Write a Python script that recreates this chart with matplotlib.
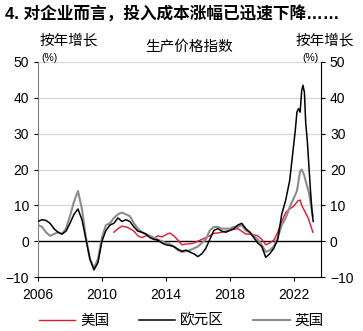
import matplotlib
matplotlib.use("Agg")
import matplotlib.pyplot as plt

plt.rcParams['font.family'] = ['Liberation Sans', 'Noto Sans CJK SC']

# Euro area PPI, % y/y
euro_x = [2006.0, 2006.25, 2006.5, 2006.75, 2007.0, 2007.25, 2007.5, 2007.75,
          2008.0, 2008.25, 2008.5, 2008.75, 2009.0, 2009.25, 2009.5, 2009.75,
          2010.0, 2010.25, 2010.5, 2010.75, 2011.0, 2011.25, 2011.5, 2011.75,
          2012.0, 2012.25, 2012.5, 2012.75, 2013.0, 2013.25, 2013.5, 2013.75,
          2014.0, 2014.25, 2014.5, 2014.75, 2015.0, 2015.25, 2015.5, 2015.75,
          2016.0, 2016.25, 2016.5, 2016.75, 2017.0, 2017.25, 2017.5, 2017.75,
          2018.0, 2018.25, 2018.5, 2018.75, 2019.0, 2019.25, 2019.5, 2019.75,
          2020.0, 2020.25, 2020.5, 2020.75, 2021.0, 2021.25, 2021.5, 2021.75,
          2021.9, 2022.0, 2022.1, 2022.2, 2022.3, 2022.4, 2022.5, 2022.58,
          2022.67, 2022.75, 2022.85, 2022.95, 2023.05, 2023.15, 2023.22]
euro_y = [5.5, 6.0, 5.8, 5.0, 3.5, 2.5, 2.0, 2.8,
          5.0, 7.5, 9.0, 6.0, 0.5, -5.0, -8.0, -6.0,
          0.0, 3.0, 4.5, 5.0, 6.5, 5.5, 6.0, 5.5,
          4.0, 2.8, 2.5, 2.0, 1.0, 0.5, 0.3, -0.5,
          -1.0, -1.2, -1.5, -2.2, -2.8, -2.5, -3.0, -3.5,
          -4.3, -3.5, -2.0, 0.5, 3.0, 3.5, 2.8, 2.5,
          3.0, 3.5, 4.5, 5.0, 3.5, 2.5, 1.0, -0.5,
          -1.5, -4.5, -3.5, -2.0, 0.5, 7.5, 11.5, 17.0,
          23.0, 27.0, 31.0, 36.0, 37.0, 36.0, 42.0, 43.5,
          41.5, 33.0, 28.0, 21.0, 14.0, 8.0, 5.5]

# UK PPI input, % y/y
uk_x = [2006.0, 2006.25, 2006.5, 2006.75, 2007.0, 2007.25, 2007.5, 2007.75,
        2008.0, 2008.25, 2008.5, 2008.75, 2009.0, 2009.25, 2009.5, 2009.75,
        2010.0, 2010.25, 2010.5, 2010.75, 2011.0, 2011.25, 2011.5, 2011.75,
        2012.0, 2012.25, 2012.5, 2012.75, 2013.0, 2013.25, 2013.5, 2013.75,
        2014.0, 2014.25, 2014.5, 2014.75, 2015.0, 2015.25, 2015.5, 2015.75,
        2016.0, 2016.25, 2016.5, 2016.75, 2017.0, 2017.25, 2017.5, 2017.75,
        2018.0, 2018.25, 2018.5, 2018.75, 2019.0, 2019.25, 2019.5, 2019.75,
        2020.0, 2020.25, 2020.5, 2020.75, 2021.0, 2021.25, 2021.5, 2021.75,
        2022.0, 2022.2, 2022.4, 2022.5, 2022.65, 2022.8, 2022.95, 2023.1, 2023.2]
uk_y = [4.5, 4.0, 2.5, 1.5, 2.0, 2.5, 2.0, 3.5,
        7.0, 11.0, 14.0, 9.0, 1.0, -5.0, -7.5, -5.0,
        1.0, 4.5, 5.0, 6.5, 7.5, 8.0, 7.5, 7.0,
        5.0, 3.5, 2.5, 2.0, 1.5, 1.0, 0.5, 0.0,
        -0.5, -0.8, -1.5, -2.5, -3.0, -2.8, -2.5, -2.0,
        -1.5, -0.5, 0.5, 3.0, 4.0, 4.0, 3.5, 3.5,
        3.5, 4.0, 4.0, 4.5, 3.0, 2.5, 1.5, 0.5,
        -1.0, -3.0, -2.5, -1.5, 1.0, 4.5, 6.5, 9.5,
        12.0, 14.0, 19.5, 20.0, 18.5, 16.0, 13.5, 9.5, 7.0]

# US PPI, % y/y
us_x = [2010.75, 2011.0, 2011.25, 2011.5, 2011.75, 2012.0, 2012.25, 2012.5,
        2012.75, 2013.0, 2013.25, 2013.5, 2013.75, 2014.0, 2014.25, 2014.5,
        2014.75, 2015.0, 2015.25, 2015.5, 2015.75, 2016.0, 2016.25, 2016.5,
        2016.75, 2017.0, 2017.25, 2017.5, 2017.75, 2018.0, 2018.25, 2018.5,
        2018.75, 2019.0, 2019.25, 2019.5, 2019.75, 2020.0, 2020.25, 2020.5,
        2020.75, 2021.0, 2021.25, 2021.5, 2021.75, 2022.0, 2022.25, 2022.4,
        2022.5, 2022.75, 2022.9, 2023.05, 2023.2]
us_y = [2.5, 3.5, 4.2, 4.0, 3.5, 2.8, 1.5, 1.0,
        1.5, 1.5, 0.8, 1.5, 1.2, 1.8, 2.3, 1.5,
        0.3, -1.0, -0.8, -0.7, -0.5, 0.0, 0.5, 1.0,
        1.5, 2.2, 2.3, 2.5, 2.8, 3.0, 3.3, 3.5,
        2.8, 2.0, 2.0, 1.8, 1.5, 0.5, -1.0, -0.5,
        0.3, 2.5, 5.5, 8.0, 9.0, 9.8, 11.2, 11.5,
        10.0, 7.8, 6.5, 4.5, 2.5]

year_ticks = [2006, 2010, 2014, 2018, 2022]
value_ticks = [-10, 0, 10, 20, 30, 40, 50]

fig = plt.figure(figsize=(3.63, 3.31), dpi=100)
ax = fig.add_axes([0.1047, 0.163, 0.7793, 0.6497])

for v in value_ticks[2:]:
    ax.axhline(v, color='#d9d9d9', lw=1.0, zorder=1)
ax.axhline(0, color='black', lw=1.0, zorder=2)

ax.plot(us_x, us_y, color='#e3172d', lw=1.0, zorder=3, label='美国')
ax.plot(euro_x, euro_y, color='black', lw=1.1, zorder=4, label='欧元区')
ax.plot(uk_x, uk_y, color='#8c8c8c', lw=1.5, zorder=3, label='英国')

ax.set_xlim(2006, 2023.7)
ax.set_ylim(-10, 50)
ax.set_xticks(year_ticks)
ax.set_yticks(value_ticks)
ax.tick_params(axis='both', labelsize=10, length=3, width=0.8, direction='out')
ax.tick_params(axis='y', right=True, labelright=True)
ax.tick_params(axis='x', pad=5)
ax.spines['top'].set_visible(False)
ax.spines['left'].set_color('#808080')
ax.spines['right'].set_color('black')
ax.spines['bottom'].set_color('black')

fig.text(0.014, 0.96, '4. 对企业而言，投入成本涨幅已迅速下降……', fontsize=12,
         fontweight='bold', ha='left', va='center')
fig.text(0.19, 0.878, '按年增长', fontsize=10.5, ha='center', va='center')
fig.text(0.895, 0.878, '按年增长', fontsize=10.5, ha='center', va='center')
fig.text(0.52, 0.858, '生产价格指数', fontsize=10.5, ha='center', va='center')
fig.text(0.137, 0.826, '(%)', fontsize=7.5, ha='center', va='center')
fig.text(0.855, 0.826, '(%)', fontsize=7.5, ha='center', va='center')

fig.legend(loc='lower center', bbox_to_anchor=(0.5, -0.03), ncol=3, frameon=False,
           fontsize=10.5, handlelength=2.5, columnspacing=2.0, handletextpad=0.35)

fig.savefig('out.png', dpi=100)
